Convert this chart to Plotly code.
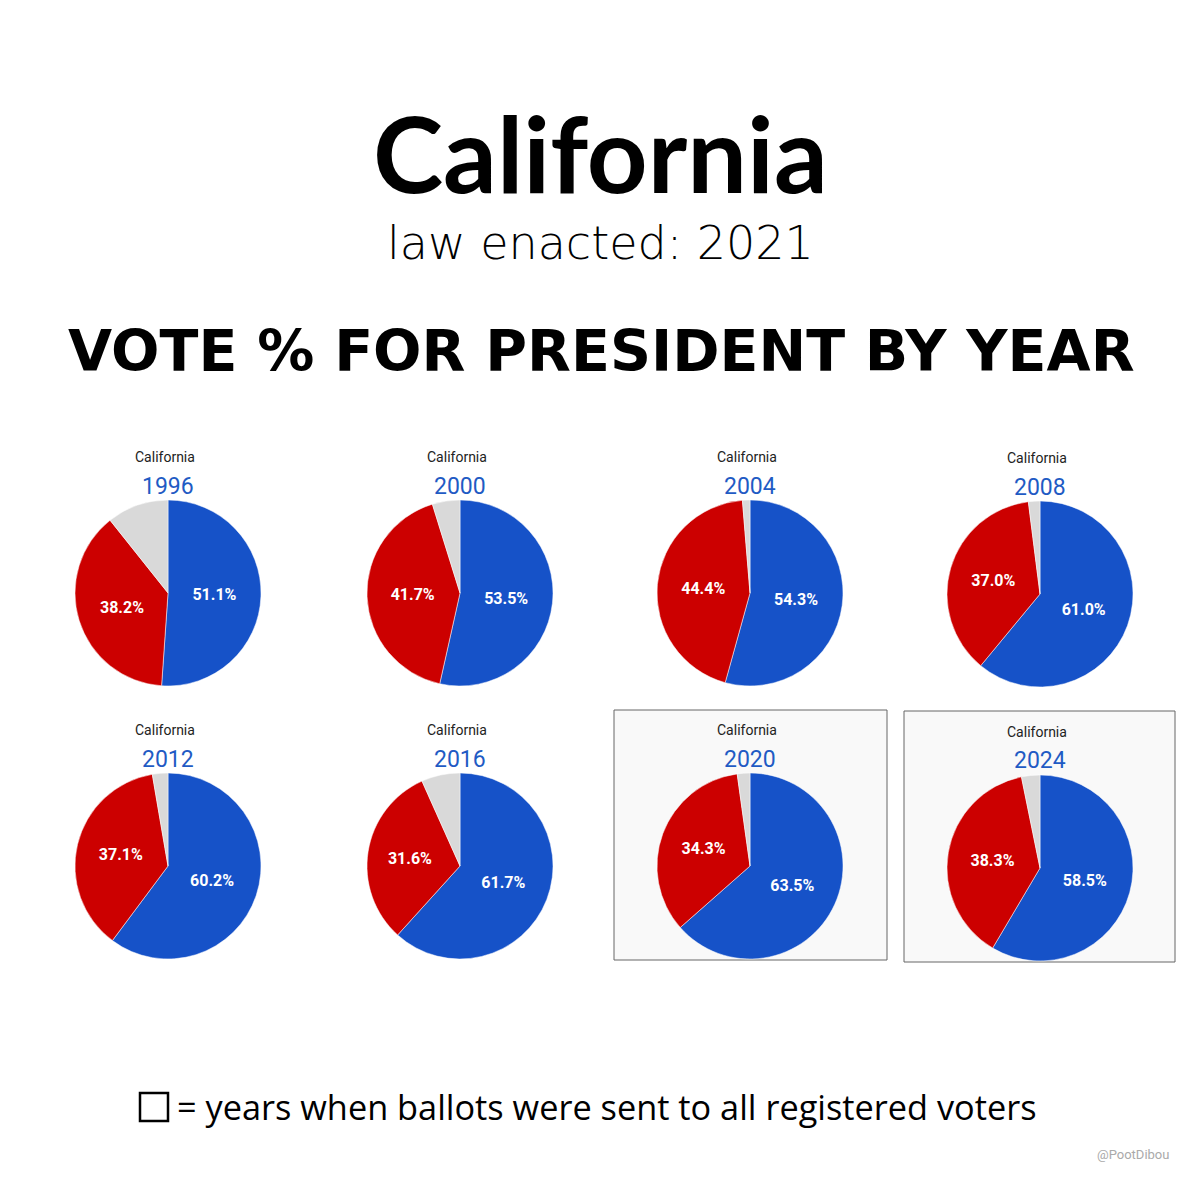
import plotly.graph_objects as go

# vote shares (Dem, Rep, other)
years = ["1996", "2000", "2004", "2008", "2012", "2016", "2020", "2024"]
dem = [51.1, 53.5, 54.3, 61.0, 60.2, 61.7, 63.5, 58.5]
rep = [38.2, 41.7, 44.4, 37.0, 37.1, 31.6, 34.3, 38.3]
other = [10.7, 4.8, 1.3, 2.0, 2.7, 6.7, 2.2, 3.2]
mail_years = ["2020", "2024"]

BLUE = "#1652c8"
RED = "#cc0000"
GREY = "#d9d9d9"
W, H = 1200, 1200
OFF = 8  # page body margin, so the figure lands where the reference has it

# pixel centres of each pie in the reference image
cx = [168, 460, 750, 1040, 168, 460, 750, 1040]
cy = [593, 593, 593, 594, 866, 866, 866, 868]
r = 93


def px(x):
    return (x - OFF) / W


def py(y):
    return 1 - (y - OFF) / H


fig = go.Figure()

for i, yr in enumerate(years):
    fig.add_trace(go.Pie(
        values=[dem[i], rep[i], other[i]],
        labels=["Dem", "Rep", "Other"],
        sort=False,
        direction="clockwise",
        rotation=0,
        marker=dict(colors=[BLUE, RED, GREY], line=dict(color="white", width=0.5)),
        texttemplate=["%{value:.1f}%", "%{value:.1f}%", ""],
        textposition="inside",
        insidetextorientation="horizontal",
        textfont=dict(family="Roboto", size=16, color="white", weight="bold"),
        domain=dict(x=[px(cx[i] - r), px(cx[i] + r)], y=[py(cy[i] + r), py(cy[i] - r)]),
        showlegend=False,
        hoverinfo="label+value",
    ))
    # small chart headers
    fig.add_annotation(text="California", x=px(cx[i] - 3), y=py(cy[i] - 136), xanchor="center",
                       font=dict(family="Roboto", size=14, color="#222"))
    fig.add_annotation(text=yr, x=px(cx[i]), y=py(cy[i] - 107), xanchor="center",
                       font=dict(family="Roboto", size=23, color="#1f5bc4"))

# grey frames for all-mail ballot years
boxes = {"2020": (614, 710, 887, 960), "2024": (904, 711, 1175, 962)}
for yr in mail_years:
    x0, y0, x1, y1 = boxes[yr]
    fig.add_shape(type="rect", xref="paper", yref="paper",
                  x0=px(x0), x1=px(x1), y0=py(y1), y1=py(y0),
                  fillcolor="#f9f9f9", line=dict(color="#666", width=1), layer="below")

# headings
fig.add_annotation(text="California", x=px(600), y=py(152), xanchor="center",
                   font=dict(family="Lato", size=106, color="black", weight="bold"))
fig.add_annotation(text="law enacted: 2021", x=px(600), y=py(243), xanchor="center",
                   font=dict(family="DejaVu Sans ExtraLight, DejaVu Sans", size=46,
                             color="black", weight=200))
fig.add_annotation(text="VOTE % FOR PRESIDENT BY YEAR", x=px(601), y=py(351), xanchor="center",
                   font=dict(family="DejaVu Sans", size=57, color="black", weight="bold"))

# footnote with legend square
fig.add_shape(type="rect", xref="paper", yref="paper",
              x0=px(140), x1=px(168), y0=py(1121), y1=py(1093),
              line=dict(color="black", width=2.5), fillcolor="white")
fig.add_annotation(text="= years when ballots were sent to all registered voters",
                   x=px(175), y=py(1106), xanchor="left",
                   font=dict(family="Open Sans", size=34.3, color="black"))
fig.add_annotation(text="@PootDibou", x=px(1171), y=py(1154), xanchor="right",
                   font=dict(family="Roboto", size=13, color="#aaa"))

fig.update_annotations(xref="paper", yref="paper", showarrow=False, yanchor="middle")
fig.update_layout(width=W, height=H, margin=dict(l=0, r=0, t=0, b=0),
                  paper_bgcolor="white", plot_bgcolor="white")

fig.write_html("out.html")
